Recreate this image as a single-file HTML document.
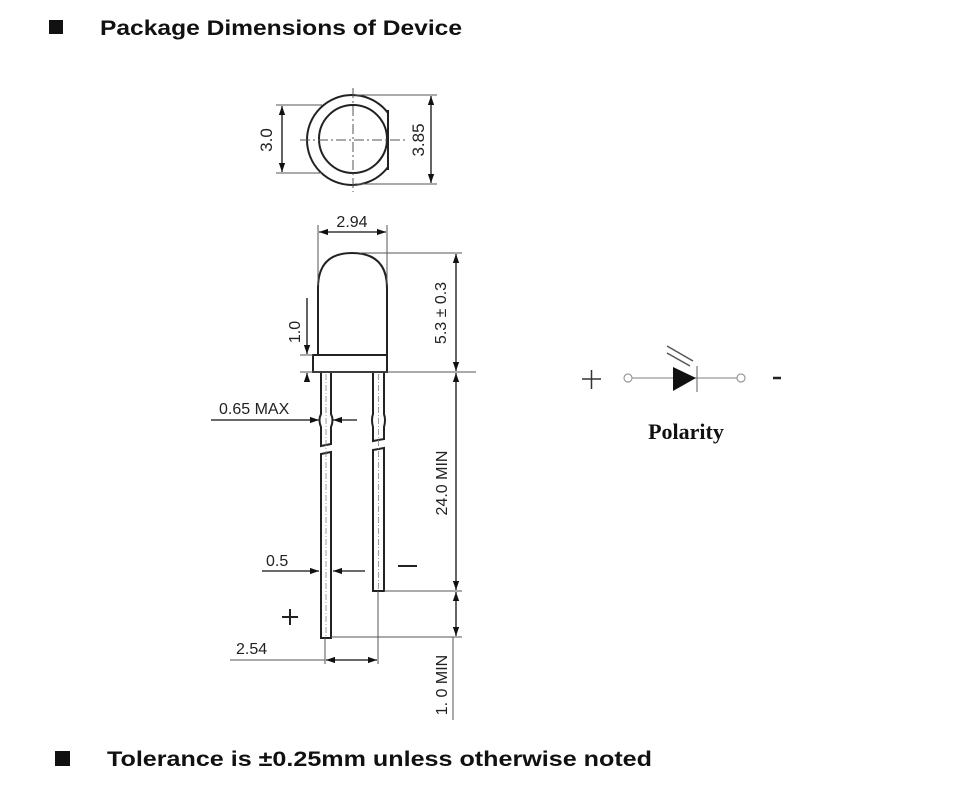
<!DOCTYPE html>
<html><head><meta charset="utf-8"><style>
body{margin:0;background:#fff;}
svg{display:block;}
</style></head><body>
<svg width="968" height="800" viewBox="0 0 968 800" xmlns="http://www.w3.org/2000/svg" font-family="Liberation Sans, sans-serif">
<defs>
<marker id="a" viewBox="0 0 10 10" refX="10" refY="5" markerWidth="7" markerHeight="7" orient="auto-start-reverse"><path d="M0,1.5 L10,5 L0,8.5 z" fill="#111"/></marker>
<clipPath id="c"><rect x="290" y="80" width="98" height="120"/></clipPath>
</defs>
<rect x="49" y="20" width="14" height="14" fill="#111"/>
<text x="100" y="35" font-size="21" font-weight="bold" fill="#111" textLength="362" lengthAdjust="spacingAndGlyphs">Package Dimensions of Device</text>

<g stroke="#222" fill="none" stroke-width="2">
<circle cx="352" cy="140" r="45" clip-path="url(#c)"/>
<line x1="388" y1="110" x2="388" y2="170"/>
<circle cx="353" cy="139" r="34"/>
</g>
<g stroke="#555" stroke-width="1" fill="none">
<line x1="300" y1="140" x2="408" y2="140" stroke-dasharray="10,3,2,3"/>
<line x1="353" y1="88" x2="353" y2="192" stroke-dasharray="10,3,2,3"/>
<line x1="276" y1="105" x2="322" y2="105"/><line x1="276" y1="173" x2="322" y2="173"/>
<line x1="355" y1="95" x2="437" y2="95"/><line x1="355" y1="184" x2="437" y2="184"/>
</g>
<g stroke="#111" stroke-width="1.3">
<line x1="282" y1="106" x2="282" y2="172" marker-start="url(#a)" marker-end="url(#a)"/>
<line x1="431" y1="96" x2="431" y2="183" marker-start="url(#a)" marker-end="url(#a)"/>
</g>
<text transform="translate(272,140) rotate(-90)" font-size="17" text-anchor="middle" fill="#222">3.0</text>
<text transform="translate(424,140) rotate(-90)" font-size="17" text-anchor="middle" fill="#222">3.85</text>

<g stroke="#222" fill="none" stroke-width="2">
<path d="M318,355 L318,288 Q318,253 352,253 Q387,253 387,288 L387,355"/>
<rect x="313" y="355" width="74" height="17"/>
<path d="M321,372 L321,414 Q318,420 321,427 L321,446 L331,444 L331,427 Q334,420 331,414 L331,372"/>
<path d="M321,454 L331,452 L331,638 L321,638 Z"/>
<path d="M373,372 L373,414 Q371,420 373,427 L373,441 L384,439 L384,427 Q386,420 384,414 L384,372"/>
<path d="M373,450 L384,448 L384,591 L373,591 Z"/>
</g>
<g stroke="#888" stroke-width="0.8" stroke-dasharray="6,2,1,2">
<line x1="326" y1="374" x2="326" y2="636"/><line x1="378.5" y1="374" x2="378.5" y2="589"/>
</g>
<g stroke="#555" stroke-width="1" fill="none">
<line x1="318" y1="225" x2="318" y2="285"/><line x1="387" y1="225" x2="387" y2="285"/>
<line x1="360" y1="253" x2="462" y2="253"/>
<line x1="300" y1="372" x2="476" y2="372"/>
<line x1="300" y1="355" x2="313" y2="355"/>
<line x1="384" y1="591" x2="462" y2="591"/>
<line x1="331" y1="637" x2="462" y2="637"/>
<line x1="453" y1="637" x2="453" y2="720"/>
<line x1="325" y1="638" x2="325" y2="664"/><line x1="378" y1="591" x2="378" y2="664"/>
<line x1="230" y1="660" x2="325" y2="660"/>
</g>
<g stroke="#111" stroke-width="1.3" fill="none">
<line x1="319" y1="232" x2="386" y2="232" marker-start="url(#a)" marker-end="url(#a)"/>
<line x1="456" y1="254" x2="456" y2="371" marker-start="url(#a)" marker-end="url(#a)"/>
<line x1="307" y1="298" x2="307" y2="354" marker-end="url(#a)"/>
<line x1="307" y1="382" x2="307" y2="373" marker-end="url(#a)"/>
<line x1="456" y1="373" x2="456" y2="590" marker-start="url(#a)" marker-end="url(#a)"/>
<line x1="456" y1="592" x2="456" y2="636" marker-start="url(#a)" marker-end="url(#a)"/>
<line x1="211" y1="420" x2="319" y2="420" marker-end="url(#a)"/>
<line x1="357" y1="420" x2="333" y2="420" marker-end="url(#a)"/>
<line x1="262" y1="571" x2="319" y2="571" marker-end="url(#a)"/>
<line x1="365" y1="571" x2="333" y2="571" marker-end="url(#a)"/>
<line x1="326" y1="660" x2="377" y2="660" marker-start="url(#a)" marker-end="url(#a)"/>
</g>
<g fill="#222" font-size="16">
<text x="352" y="227" text-anchor="middle">2.94</text>
<text transform="translate(446,313) rotate(-90)" text-anchor="middle">5.3 ± 0.3</text>
<text transform="translate(300,332) rotate(-90)" text-anchor="middle">1.0</text>
<text x="219" y="414">0.65 MAX</text>
<text transform="translate(447,483) rotate(-90)" text-anchor="middle">24.0 MIN</text>
<text transform="translate(447,685) rotate(-90)" text-anchor="middle">1. 0 MIN</text>
<text x="266" y="566">0.5</text>
<text x="236" y="654">2.54</text>
</g>
<line x1="398" y1="566" x2="417" y2="566" stroke="#222" stroke-width="2"/>
<g stroke="#222" stroke-width="2"><line x1="282" y1="617" x2="298" y2="617"/><line x1="290" y1="609" x2="290" y2="625"/></g>

<g stroke="#333" stroke-width="1.5"><line x1="582" y1="379" x2="601" y2="379"/><line x1="591.5" y1="370" x2="591.5" y2="389"/></g>
<g stroke="#999" stroke-width="1.2" fill="#fff">
<line x1="632" y1="378" x2="737" y2="378"/>
<circle cx="628" cy="378" r="4"/><circle cx="741" cy="378" r="4"/>
</g>
<path d="M673,367 L696,378 L673,391 Z" fill="#111"/>
<line x1="697" y1="366" x2="697" y2="392" stroke="#777" stroke-width="1.2"/>
<g stroke="#555" stroke-width="1.5"><line x1="667" y1="346" x2="693" y2="361"/><line x1="667" y1="353" x2="690" y2="366"/></g>
<line x1="773" y1="378" x2="781" y2="378" stroke="#222" stroke-width="2.5"/>
<text x="686" y="439" font-family="Liberation Serif, serif" font-weight="bold" font-size="22" text-anchor="middle" fill="#111">Polarity</text>

<rect x="55" y="751" width="15" height="15" fill="#111"/>
<text x="107" y="766" font-size="21" font-weight="bold" fill="#111" textLength="545" lengthAdjust="spacingAndGlyphs">Tolerance is ±0.25mm unless otherwise noted</text>
</svg>
</body></html>
